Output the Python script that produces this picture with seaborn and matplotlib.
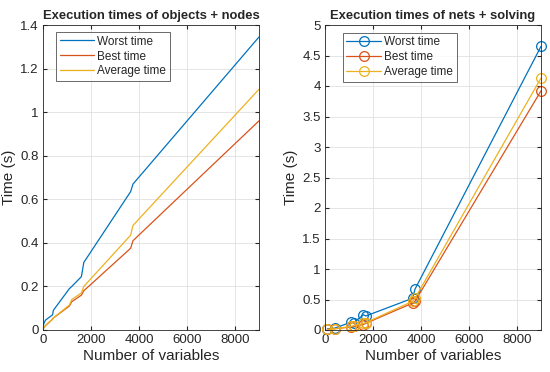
import matplotlib.pyplot as plt
import seaborn as sns
import pandas as pd

# Данные для левого графика (objects + nodes)
vars_left = [0, 100, 400, 430, 1100, 1200, 1600, 1700, 3650, 3750, 9000]
worst_left = [0.02, 0.045, 0.07, 0.09, 0.19, 0.20, 0.245, 0.31, 0.635, 0.67, 1.345]
best_left = [0.005, 0.02, 0.05, 0.055, 0.11, 0.13, 0.16, 0.18, 0.375, 0.41, 0.96]
avg_left = [0.005, 0.02, 0.05, 0.055, 0.115, 0.14, 0.17, 0.20, 0.435, 0.48, 1.105]

# Данные для правого графика (nets + solving)
vars_right = [100, 400, 1100, 1200, 1600, 1700, 3650, 3750, 9000]
worst_right = [0.02, 0.03, 0.13, 0.12, 0.25, 0.23, 0.52, 0.67, 4.65]
best_right = [0.01, 0.02, 0.05, 0.06, 0.09, 0.11, 0.44, 0.47, 3.92]
avg_right = [0.01, 0.02, 0.06, 0.07, 0.11, 0.12, 0.47, 0.52, 4.13]

series_names = ["Worst time", "Best time", "Average time"]
colors = ["#0072BD", "#D95319", "#EDB120"]

sns.set_style("whitegrid")
plt.rcParams["font.family"] = ["Liberation Sans", "DejaVu Sans"]


def to_long(x, series):
    frames = []
    for name, vals in zip(series_names, series):
        frames.append(pd.DataFrame({"x": x, "t": vals, "series": name}))
    return pd.concat(frames, ignore_index=True)


df_left = to_long(vars_left, [worst_left, best_left, avg_left])
df_right = to_long(vars_right, [worst_right, best_right, avg_right])

fig = plt.figure(figsize=(5.5, 3.72), dpi=100)
ax1 = fig.add_axes([43 / 550, 42 / 372, 216 / 550, 305 / 372])
ax2 = fig.add_axes([325 / 550, 42 / 372, 216 / 550, 305 / 372])

sns.lineplot(data=df_left, x="x", y="t", hue="series", palette=colors,
             linewidth=0.9, ax=ax1)
sns.lineplot(data=df_right, x="x", y="t", hue="series", palette=colors,
             linewidth=0.9, marker="o", markersize=7, ax=ax2)

# маркеры как в MATLAB: пустые кружки цвета линии
for line in ax2.lines:
    line.set_markerfacecolor("none")
    line.set_markeredgecolor(line.get_color())
    line.set_markeredgewidth(0.9)
    line.set_clip_on(False)

configs = [
    (ax1, "Execution times of objects + nodes", 1.4,
     [0, 0.2, 0.4, 0.6, 0.8, 1, 1.2, 1.4], (0.06, 0.977)),
    (ax2, "Execution times of nets + solving", 5,
     [0, 0.5, 1, 1.5, 2, 2.5, 3, 3.5, 4, 4.5, 5], (0.083, 0.974)),
]
for ax, title, ymax, yticks, leg_pos in configs:
    ax.set_xlim(0, 9000)
    ax.set_ylim(0, ymax)
    ax.set_xticks([0, 2000, 4000, 6000, 8000])
    ax.set_yticks(yticks)
    ax.set_yticklabels([f"{v:g}" for v in yticks])
    ax.set_title(title, fontsize=9.4, fontweight="bold", pad=4)
    ax.set_xlabel("Number of variables", fontsize=11, labelpad=2)
    ax.set_ylabel("Time (s)", fontsize=11, labelpad=3)
    ax.tick_params(direction="in", length=3, labelsize=9.5, pad=3,
                   colors="#262626", top=True, right=True,
                   bottom=True, left=True)
    ax.grid(True, color="#e0e0e0", linewidth=0.6)
    for sp in ax.spines.values():
        sp.set_color("#262626")
        sp.set_linewidth(0.6)
    leg = ax.legend(loc="upper left", bbox_to_anchor=leg_pos, borderaxespad=0,
                    fontsize=8.5, frameon=True, fancybox=False, borderpad=0.3,
                    handlelength=2.9, handletextpad=0.3, labelspacing=0.25)
    leg.get_frame().set_edgecolor("#262626")
    leg.get_frame().set_linewidth(0.6)
    for h in leg.legend_handles:
        h.set_markerfacecolor("none")
        h.set_markeredgecolor(h.get_color())

plt.savefig("out.png", dpi=100)
plt.close()
